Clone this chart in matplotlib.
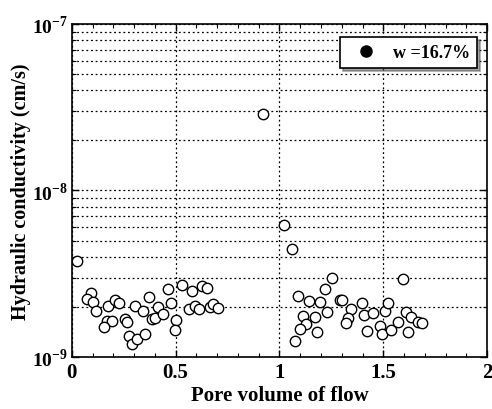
import matplotlib
matplotlib.use("Agg")
import matplotlib.pyplot as plt
from matplotlib.ticker import LogLocator, MultipleLocator, NullFormatter, FixedLocator, FixedFormatter

plt.rcParams['font.family'] = ['Liberation Serif', 'DejaVu Serif']
plt.rcParams['mathtext.fontset'] = 'custom'
plt.rcParams['mathtext.rm'] = 'Liberation Serif:bold'
plt.rcParams['mathtext.bf'] = 'Liberation Serif:bold'

pore_volume = [
    0.024, 0.092, 0.072, 0.104, 0.116, 0.169, 0.193, 0.153, 0.173, 0.209, 0.228,
    0.257, 0.265, 0.273, 0.289, 0.313, 0.353, 0.302, 0.342, 0.373, 0.414, 0.386, 0.402,
    0.464, 0.480, 0.440, 0.504, 0.496, 0.529, 0.577, 0.629, 0.652, 0.566, 0.593,
    0.614, 0.665, 0.681, 0.705,
    0.92, 1.02, 1.06,
    1.254, 1.219, 1.091, 1.140, 1.195, 1.292, 1.231, 1.115, 1.171, 1.128, 1.099,
    1.180, 1.075,
    1.597, 1.303, 1.344, 1.396, 1.332, 1.319, 1.409, 1.449, 1.508, 1.525, 1.420,
    1.484, 1.495, 1.537, 1.573, 1.608, 1.634, 1.669, 1.685, 1.621,
]
conductivity = [
    3.79e-9, 2.41e-9, 2.23e-9, 2.15e-9, 1.90e-9, 1.65e-9, 1.65e-9, 1.51e-9, 2.02e-9, 2.21e-9, 2.11e-9,
    1.69e-9, 1.62e-9, 1.34e-9, 1.20e-9, 1.28e-9, 1.37e-9, 2.03e-9, 1.90e-9, 2.28e-9, 1.99e-9, 1.69e-9, 1.71e-9,
    2.56e-9, 2.11e-9, 1.81e-9, 1.67e-9, 1.45e-9, 2.72e-9, 2.50e-9, 2.68e-9, 2.60e-9, 1.94e-9, 2.02e-9,
    1.94e-9, 1.99e-9, 2.08e-9, 1.96e-9,
    2.88e-8, 6.2e-9, 4.45e-9,
    2.97e-9, 2.56e-9, 2.33e-9, 2.16e-9, 2.13e-9, 2.21e-9, 1.87e-9, 1.75e-9, 1.73e-9, 1.58e-9, 1.47e-9,
    1.41e-9, 1.24e-9,
    2.94e-9, 2.21e-9, 1.94e-9, 2.11e-9, 1.71e-9, 1.61e-9, 1.79e-9, 1.84e-9, 1.90e-9, 2.10e-9, 1.44e-9,
    1.53e-9, 1.37e-9, 1.45e-9, 1.63e-9, 1.86e-9, 1.73e-9, 1.63e-9, 1.60e-9, 1.41e-9,
]
x_ticks = [0, 0.5, 1, 1.5, 2]
x_tick_labels = ['0', '0.5', '1', '1.5', '2']
y_ticks = [1e-9, 1e-8, 1e-7]
y_tick_labels = [r'$10^{-9}$', r'$10^{-8}$', r'$10^{-7}$']
legend_label = 'w =16.7%'

fig = plt.figure(figsize=(4.92, 4.10), dpi=100)
ax = fig.add_axes([0.146, 0.127, 0.844, 0.812])

ax.plot(pore_volume, conductivity, linestyle='none', marker='o', markersize=7.5,
        markerfacecolor='white', markeredgecolor='black', markeredgewidth=1.0, zorder=3)

ax.set_yscale('log')
ax.set_xlim(0, 2)
ax.set_ylim(1e-9, 1e-7)

ax.xaxis.set_major_locator(FixedLocator(x_ticks))
ax.xaxis.set_major_formatter(FixedFormatter(x_tick_labels))
ax.xaxis.set_minor_locator(MultipleLocator(0.1))
ax.yaxis.set_major_locator(FixedLocator(y_ticks))
ax.yaxis.set_major_formatter(FixedFormatter(y_tick_labels))
ax.yaxis.set_minor_locator(LogLocator(base=10, subs=range(2, 10)))
ax.yaxis.set_minor_formatter(NullFormatter())

ax.tick_params(which='both', direction='in', top=True, right=True, colors='black')
ax.tick_params(which='major', length=5, width=1.0, labelsize=15, pad=4)
ax.tick_params(axis='y', which='major', labelsize=14, pad=3)
ax.tick_params(which='minor', length=3, width=0.8)
for lbl in ax.get_xticklabels():
    lbl.set_fontweight('bold')

grid_style = dict(color='black', linestyle=(0, (1.5, 2.2)), linewidth=0.9)
ax.grid(True, which='major', axis='x', **grid_style)
ax.grid(True, which='both', axis='y', **grid_style)

for s in ax.spines.values():
    s.set_linewidth(1.2)
    s.set_color('black')

ax.set_xlabel('Pore volume of flow', fontsize=15, fontweight='bold', labelpad=2)
ax.set_ylabel('Hydraulic conductivity (cm/s)', fontsize=14.5, fontweight='bold', labelpad=0)
ax.yaxis.set_label_coords(-0.098, 0.5)

handle = ax.plot([], [], linestyle='none', marker='o', markersize=8,
                 markerfacecolor='black', markeredgecolor='black')[0]
leg = ax.legend([handle], [legend_label], loc='upper right', bbox_to_anchor=(0.976, 0.961),
                frameon=True, fancybox=False, shadow=True, edgecolor='black',
                prop={'family': 'Liberation Serif', 'weight': 'bold', 'size': 13},
                borderpad=0.4, handlelength=2.0, handletextpad=0.5, borderaxespad=0.0)
leg.get_frame().set_linewidth(1.2)
leg.get_frame().set_facecolor('white')

fig.savefig('out.png', dpi=100)
